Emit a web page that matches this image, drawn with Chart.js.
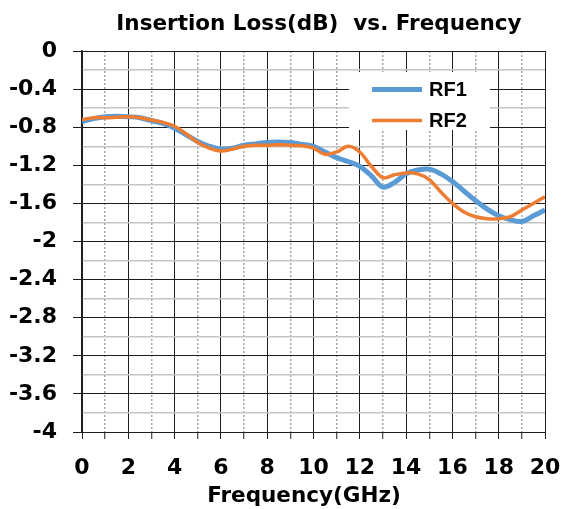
<!DOCTYPE html>
<html>
<head>
<meta charset="utf-8">
<script src="https://cdn.jsdelivr.net/npm/chart.js@4/dist/chart.umd.min.js"></script>
<style>
  html, body { margin: 0; padding: 0; background: #ffffff; }
  #wrap { width: 564px; height: 509px; position: relative; }
</style>
</head>
<body>
<div id="wrap"><canvas id="c"></canvas></div>
<script>
// ---- data ----
const chartTitle = "Insertion Loss(dB)  vs. Frequency";
const xAxisTitle = "Frequency(GHz)";
const seriesNames = ["RF1", "RF2"];
const freqGHz = [0,0.5,1,1.5,2,2.5,3,3.5,4,4.5,5,5.5,6,6.5,7,7.5,8,8.5,9,9.5,10,
                 10.5,11,11.5,12,12.5,13,13.5,14,14.5,15,15.5,16,16.5,17,17.5,18,18.5,19,19.5,20];
const rf1 = [-0.74,-0.71,-0.69,-0.685,-0.69,-0.70,-0.73,-0.76,-0.81,-0.88,-0.95,-1.00,-1.03,-1.02,-0.99,-0.975,-0.96,-0.955,-0.96,-0.98,-1.00,
             -1.06,-1.12,-1.16,-1.21,-1.31,-1.43,-1.38,-1.29,-1.25,-1.24,-1.29,-1.37,-1.47,-1.57,-1.66,-1.73,-1.77,-1.79,-1.73,-1.67];
const rf2 = [-0.72,-0.70,-0.70,-0.695,-0.69,-0.70,-0.725,-0.75,-0.79,-0.87,-0.96,-1.02,-1.05,-1.03,-1.00,-0.99,-0.99,-0.985,-0.99,-0.995,-1.02,
             -1.085,-1.06,-1.00,-1.06,-1.21,-1.33,-1.30,-1.28,-1.29,-1.35,-1.48,-1.60,-1.69,-1.74,-1.76,-1.76,-1.74,-1.67,-1.60,-1.53];
const xTickLabels = ["0","2","4","6","8","10","12","14","16","18","20"];
const yTickLabels = ["0","-0.4","-0.8","-1.2","-1.6","-2","-2.4","-2.8","-3.2","-3.6","-4"];

// ---- styles ----
const BLUE = "#5B9BD5", ORANGE = "#ED7D31";
const MAJOR = "#1e1e1e", MINOR_H = "#c4c4c4", MINOR_V = "#a6a6a6";
const TICK_FONT = { family: "'DejaVu Sans'", size: 22, weight: "bold" };

const toPts = ys => freqGHz.map((f, i) => ({ x: f, y: ys[i] }));
const xLabelFor = v => { const s = String(Math.round(v)); return xTickLabels.includes(s) && Math.abs(v - Math.round(v)) < 1e-6 ? s : ""; };
const yLabelFor = v => { const s = String(Math.round(v * 10) / 10); return yTickLabels.includes(s) ? s : ""; };
const isMajorX = v => Math.round(v) % 2 === 0;
const isMajorY = v => Math.round(v * 10) % 4 === 0;

const overlay = {
  id: "overlay",
  afterDraw(chart) {
    const ctx = chart.ctx;
    ctx.save();
    // title
    ctx.fillStyle = "#000";
    ctx.textAlign = "center";
    ctx.textBaseline = "alphabetic";
    ctx.font = "bold 21.5px 'DejaVu Sans'";
    ctx.fillText(chartTitle, 319, 30);
    // x-axis title
    ctx.font = "bold 21.5px 'DejaVu Sans'";
    ctx.fillText(xAxisTitle, 304, 502);
    // legend box
    ctx.fillStyle = "#ffffff";
    ctx.fillRect(349, 72, 141, 58);
    const ds = chart.data.datasets;
    const rows = [89.5, 120.5];
    ds.forEach((d, i) => {
      ctx.strokeStyle = d.borderColor;
      ctx.lineWidth = d.borderWidth;
      ctx.lineCap = "butt";
      ctx.beginPath();
      ctx.moveTo(372, rows[i]);
      ctx.lineTo(422, rows[i]);
      ctx.stroke();
      ctx.fillStyle = "#000";
      ctx.textAlign = "left";
      ctx.textBaseline = "middle";
      ctx.font = "bold 20px 'Liberation Sans'";
      ctx.fillText(d.label, 429, rows[i] + 1);
    });
    ctx.restore();
  }
};

new Chart(document.getElementById("c"), {
  type: "line",
  data: {
    datasets: [
      { label: seriesNames[0], data: toPts(rf1), borderColor: BLUE, backgroundColor: BLUE, borderWidth: 5, pointRadius: 0, tension: 0.35, order: 1 },
      { label: seriesNames[1], data: toPts(rf2), borderColor: ORANGE, backgroundColor: ORANGE, borderWidth: 3.5, pointRadius: 0, tension: 0.35, order: 0 }
    ]
  },
  options: {
    responsive: true,
    maintainAspectRatio: false,
    animation: false,
    devicePixelRatio: 1,
    layout: { padding: { left: 0, top: 51, right: 19, bottom: 0 } },
    plugins: { legend: { display: false }, title: { display: false }, tooltip: { enabled: false } },
    scales: {
      x: {
        type: "linear", min: 0, max: 20,
        afterFit: s => { s.height = 77; s.paddingLeft = 0; s.paddingRight = 0; },
        ticks: { stepSize: 1, autoSkip: false, maxRotation: 0, padding: 16, color: "#000", font: TICK_FONT,
                 callback: v => xLabelFor(v) },
        grid: {
          color: c => (c.tick && isMajorX(c.tick.value)) ? MAJOR : MINOR_V,
          lineWidth: c => (c.tick && isMajorX(c.tick.value)) ? 1 : 1.5,
          tickColor: MAJOR, tickLength: 7, tickWidth: 1
        },
        border: { color: MAJOR, width: 1,
                  dash: c => (c.tick && !isMajorX(c.tick.value)) ? [2, 2] : [] }
      },
      y: {
        type: "linear", min: -4, max: 0,
        afterFit: s => { s.width = 82; s.paddingTop = 0; s.paddingBottom = 0; },
        ticks: { stepSize: 0.2, autoSkip: false, padding: 16, color: "#000", font: TICK_FONT,
                 callback: v => yLabelFor(v) },
        grid: {
          color: c => (c.tick && isMajorY(c.tick.value)) ? MAJOR : MINOR_H,
          lineWidth: c => (c.tick && isMajorY(c.tick.value)) ? 1 : 1.5,
          tickColor: c => (c.tick && isMajorY(c.tick.value)) ? MAJOR : "rgba(0,0,0,0)",
          tickLength: 9
        },
        border: { color: MAJOR, width: 1.5 }
      }
    }
  },
  plugins: [overlay]
});
</script>
</body>
</html>
